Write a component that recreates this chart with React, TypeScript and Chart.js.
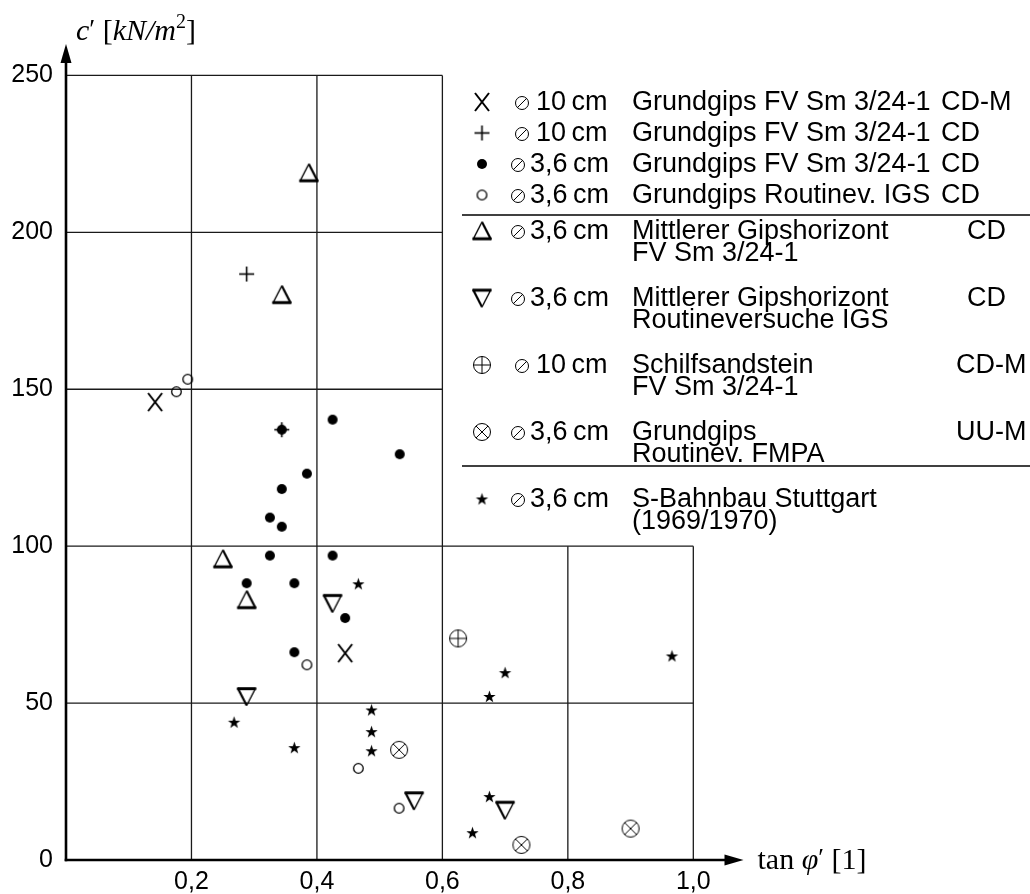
import React, { useEffect, useRef } from 'react';
import { Chart, registerables } from 'chart.js';
Chart.register(...registerables);

// ---------- data ----------
const xTicks = [0.2, 0.4, 0.6, 0.8, 1.0];
const yTicks = [0, 50, 100, 150, 200, 250];

const ptsX10CDM = [[0.142, 145.9], [0.445, 65.9]];
const ptsPlus10CD = [[0.288, 186.7], [0.344, 137.1]];
const ptsDot36CD = [
  [0.344, 137.1], [0.425, 140.3], [0.532, 129.3], [0.384, 123.1], [0.344, 118.2],
  [0.325, 109.1], [0.344, 106.2], [0.325, 97.0], [0.425, 97.0], [0.288, 88.2],
  [0.364, 88.2], [0.445, 77.1], [0.364, 66.2],
];
const ptsCircIGS = [[0.194, 153.2], [0.176, 149.2], [0.384, 62.2], [0.466, 29.2], [0.531, 16.5]];
const ptsTriUp = [[0.387, 218.9], [0.344, 180.1], [0.250, 95.9], [0.288, 82.9]];
const ptsTriDown = [[0.425, 81.8], [0.288, 52.1], [0.555, 18.9], [0.700, 15.9]];
const ptsOPlus = [[0.625, 70.6]];
const ptsOTimes = [[0.531, 35.1], [0.726, 4.8], [0.900, 10.0]];
const ptsStar = [
  [0.466, 88.0], [0.268, 43.9], [0.364, 35.8], [0.487, 47.8], [0.487, 40.9],
  [0.487, 34.8], [0.700, 59.7], [0.675, 52.1], [0.675, 20.2], [0.648, 8.7], [0.966, 65.0],
];

const legendSymbols = ['x', 'plus', 'dot', 'circle', 'triUp', 'triDown', 'oplus', 'otimes', 'star'];
const legendSizes = ['10\u2009cm', '10\u2009cm', '3,6\u2009cm', '3,6\u2009cm', '3,6\u2009cm', '3,6\u2009cm', '10\u2009cm', '3,6\u2009cm', '3,6\u2009cm'];
const legendNames = [
  ['Grundgips FV Sm 3/24-1'],
  ['Grundgips FV Sm 3/24-1'],
  ['Grundgips FV Sm 3/24-1'],
  ['Grundgips Routinev. IGS'],
  ['Mittlerer Gipshorizont', 'FV Sm 3/24-1'],
  ['Mittlerer Gipshorizont', 'Routineversuche IGS'],
  ['Schilfsandstein', 'FV Sm 3/24-1'],
  ['Grundgips', 'Routinev. FMPA'],
  ['S-Bahnbau Stuttgart', '(1969/1970)'],
];
const legendTests = ['CD-M', 'CD', 'CD', 'CD', 'CD', 'CD', 'CD-M', 'UU-M', ''];

// ---------- symbol canvases ----------
function mk(w: number, h: number, draw: (c: CanvasRenderingContext2D) => void) {
  const cv = document.createElement('canvas');
  cv.width = w; cv.height = h;
  const c = cv.getContext('2d')!;
  c.strokeStyle = '#000'; c.fillStyle = '#000';
  draw(c);
  return cv;
}
function seg(c: CanvasRenderingContext2D, a: number, b: number, d: number, e: number, lw: number) {
  c.lineWidth = lw; c.beginPath(); c.moveTo(a, b); c.lineTo(d, e); c.stroke();
}
function makeSymbols() {
  const s: Record<string, HTMLCanvasElement> = {};
  s.x = mk(18, 22, c => { seg(c, 2, 2, 16, 20, 2); seg(c, 16, 2, 2, 20, 2); });
  s.plus = mk(17, 17, c => { seg(c, 1, 8.5, 16, 8.5, 1.6); seg(c, 8.5, 1, 8.5, 16, 1.6); });
  s.dot = mk(12, 12, c => { c.beginPath(); c.arc(6, 6, 5, 0, Math.PI * 2); c.fill(); });
  s.circle = mk(13, 13, c => { c.lineWidth = 1.3; c.beginPath(); c.arc(6.5, 6.5, 4.8, 0, Math.PI * 2); c.stroke(); });
  s.triUp = mk(22, 21, c => {
    seg(c, 2, 19, 11, 1.5, 1.4);
    seg(c, 11, 1.5, 20, 19, 2.2);
    seg(c, 1.5, 18.3, 20.5, 18.3, 3);
  });
  s.triDown = mk(22, 21, c => {
    seg(c, 1.5, 2.7, 20.5, 2.7, 3);
    seg(c, 2, 2, 11, 19.5, 2.2);
    seg(c, 11, 19.5, 20, 2, 1.4);
  });
  s.oplus = mk(20, 20, c => {
    c.lineWidth = 1; c.beginPath(); c.arc(10, 10, 8.5, 0, Math.PI * 2); c.stroke();
    seg(c, 1.5, 10, 18.5, 10, 1); seg(c, 10, 1.5, 10, 18.5, 1);
  });
  s.otimes = mk(20, 20, c => {
    c.lineWidth = 1; c.beginPath(); c.arc(10, 10, 8.5, 0, Math.PI * 2); c.stroke();
    const k = 8.5 * Math.SQRT1_2;
    seg(c, 10 - k, 10 - k, 10 + k, 10 + k, 1); seg(c, 10 + k, 10 - k, 10 - k, 10 + k, 1);
  });
  s.star = mk(15, 15, c => {
    c.beginPath();
    for (let i = 0; i < 10; i++) {
      const r = i % 2 === 0 ? 6.5 : 2.6;
      const a = -Math.PI / 2 + (i * Math.PI) / 5;
      const px = 7.5 + r * Math.cos(a), py = 8 + r * Math.sin(a);
      if (i === 0) c.moveTo(px, py); else c.lineTo(px, py);
    }
    c.closePath(); c.fill();
  });
  s.diam = mk(16, 16, c => {
    c.lineWidth = 1; c.beginPath(); c.arc(8, 8, 6.5, 0, Math.PI * 2); c.stroke();
    seg(c, 3.2, 12.8, 12.8, 3.2, 1);
  });
  return s;
}

const SANS = '"Liberation Sans", Arial, Helvetica, sans-serif';
const SERIF = '"Liberation Serif", "Times New Roman", serif';

function drawRuns(ctx: CanvasRenderingContext2D, runs: { t: string; f: string; dy?: number }[], x: number, y: number) {
  ctx.textBaseline = 'alphabetic';
  ctx.textAlign = 'left';
  let cx = x;
  for (const r of runs) {
    ctx.font = r.f;
    ctx.fillText(r.t, cx, y + (r.dy || 0));
    cx += ctx.measureText(r.t).width;
  }
}

export default function App() {
  const ref = useRef<HTMLCanvasElement>(null);
  useEffect(() => {
    const sym = makeSymbols();
    const toXY = (arr: number[][]) => arr.map(p => ({ x: p[0], y: p[1] }));
    const ds = (data: number[][], style: HTMLCanvasElement) => ({
      data: toXY(data), pointStyle: style, pointRadius: 5, pointHoverRadius: 5, showLine: false,
      borderColor: '#000', backgroundColor: '#000',
    });

    const decor = {
      id: 'decor',
      beforeDatasetsDraw(chart: any) {
        const { ctx, scales: { x, y }, chartArea } = chart;
        const X = (v: number) => x.getPixelForValue(v);
        const Y = (v: number) => y.getPixelForValue(v);
        ctx.save();
        ctx.strokeStyle = '#1a1a1a';
        ctx.lineWidth = 1.3;
        const line = (a: number, b: number, c: number, d: number) => {
          ctx.beginPath(); ctx.moveTo(a, b); ctx.lineTo(c, d); ctx.stroke();
        };
        for (const v of xTicks) {
          const top = v <= 0.6 + 1e-9 ? 250 : 100;
          line(X(v), Y(0), X(v), Y(top));
        }
        for (const v of yTicks) {
          if (v === 0) continue;
          const right = v <= 100 ? 1.0 : 0.6;
          line(X(0), Y(v), X(right), Y(v));
        }
        // axes with arrows
        ctx.strokeStyle = '#000';
        ctx.fillStyle = '#000';
        ctx.lineWidth = 2.6;
        const x0 = X(0), y0 = Y(0);
        line(x0, y0 + 1.3, x0, chartArea.top + 14);
        line(x0 - 1.3, y0, chartArea.right - 14, y0);
        ctx.beginPath();
        ctx.moveTo(x0, chartArea.top); ctx.lineTo(x0 - 5.5, chartArea.top + 19); ctx.lineTo(x0 + 5.5, chartArea.top + 19); ctx.closePath(); ctx.fill();
        ctx.beginPath();
        ctx.moveTo(chartArea.right, y0); ctx.lineTo(chartArea.right - 19, y0 - 5.5); ctx.lineTo(chartArea.right - 19, y0 + 5.5); ctx.closePath(); ctx.fill();
        ctx.restore();
      },
      afterDraw(chart: any) {
        const { ctx, chartArea } = chart;
        ctx.save();
        ctx.fillStyle = '#000';
        // axis titles
        drawRuns(ctx, [
          { t: 'c', f: `italic 30px ${SERIF}` },
          { t: '\u2032', f: `27px ${SERIF}`, dy: -2 },
          { t: ' [', f: `30px ${SERIF}` },
          { t: 'kN/m', f: `italic 30px ${SERIF}` },
          { t: '2', f: `20px ${SERIF}`, dy: -12 },
          { t: ']', f: `30px ${SERIF}` },
        ], 76, 40);
        drawRuns(ctx, [
          { t: 'tan ', f: `30px ${SERIF}` },
          { t: '\u03c6', f: `italic 30px ${SERIF}` },
          { t: '\u2032', f: `26px ${SERIF}`, dy: -3 },
          { t: ' [1]', f: `30px ${SERIF}` },
        ], chartArea.right + 14, chartArea.bottom + 9);

        // legend
        const rowY = [102, 133, 164, 195, 231, 298, 365, 432, 499];
        const testX = [941, 941, 941, 941, 967, 967, 956, 956, 956];
        const lineGap = 22;
        ctx.font = `27px ${SANS}`;
        ctx.textBaseline = 'middle';
        for (let i = 0; i < legendSymbols.length; i++) {
          const yy = rowY[i];
          const s = sym[legendSymbols[i]];
          ctx.drawImage(s, 482 - s.width / 2, yy - s.height / 2);
          const is10 = legendSizes[i].startsWith('10');
          const dx = is10 ? 522 : 518;
          ctx.drawImage(sym.diam, dx - 8, yy - 8 + 1);
          ctx.textAlign = 'left';
          ctx.fillText(legendSizes[i], is10 ? 536 : 530, yy + 1);
          legendNames[i].forEach((t, j) => ctx.fillText(t, 632, yy + 1 + j * lineGap));
          if (legendTests[i]) ctx.fillText(legendTests[i], testX[i], yy + 1);
        }
        ctx.strokeStyle = '#000';
        ctx.lineWidth = 1.5;
        for (const ly of [215, 466]) {
          ctx.beginPath(); ctx.moveTo(462, ly); ctx.lineTo(1030, ly); ctx.stroke();
        }
        ctx.restore();
      },
    };

    const tickFont = { family: SANS, size: 25 };
    const chart = new Chart(ref.current!, {
      type: 'scatter',
      data: {
        datasets: [
          ds(ptsPlus10CD, sym.plus),
          ds(ptsX10CDM, sym.x),
          ds(ptsDot36CD, sym.dot),
          ds(ptsCircIGS, sym.circle),
          ds(ptsTriUp, sym.triUp),
          ds(ptsTriDown, sym.triDown),
          ds(ptsOPlus, sym.oplus),
          ds(ptsOTimes, sym.otimes),
          ds(ptsStar, sym.star),
        ] as any,
      },
      options: {
        animation: false,
        responsive: false,
        events: [],
        layout: { padding: { left: 0, top: 44, right: 286.5, bottom: 0 } },
        plugins: { legend: { display: false }, tooltip: { enabled: false } },
        scales: {
          x: {
            type: 'linear', min: 0, max: 1.08,
            border: { display: false },
            grid: { display: false, drawTicks: false },
            afterBuildTicks: (s: any) => { s.ticks = xTicks.map(v => ({ value: v })); },
            afterFit: (s: any) => { s.height = 34; },
            ticks: {
              font: tickFont, color: '#000', padding: 7, maxRotation: 0, autoSkip: false,
              callback: (v: any) => Number(v).toFixed(1).replace('.', ','),
            },
          },
          y: {
            type: 'linear', min: 0, max: 260,
            border: { display: false },
            grid: { display: false, drawTicks: false },
            afterBuildTicks: (s: any) => { s.ticks = yTicks.map(v => ({ value: v })); },
            afterFit: (s: any) => { s.width = 66; },
            ticks: {
              font: tickFont, color: '#000', padding: 13, autoSkip: false,
              callback: (v: any) => String(v),
            },
          },
        },
      } as any,
      plugins: [decor],
    });
    return () => chart.destroy();
  }, []);
  return (
    <div style={{ position: 'absolute', left: 0, top: 0, width: 1030, height: 894, background: '#fff' }}>
      <canvas ref={ref} width={1030} height={894} style={{ display: 'block' }} />
    </div>
  );
}
